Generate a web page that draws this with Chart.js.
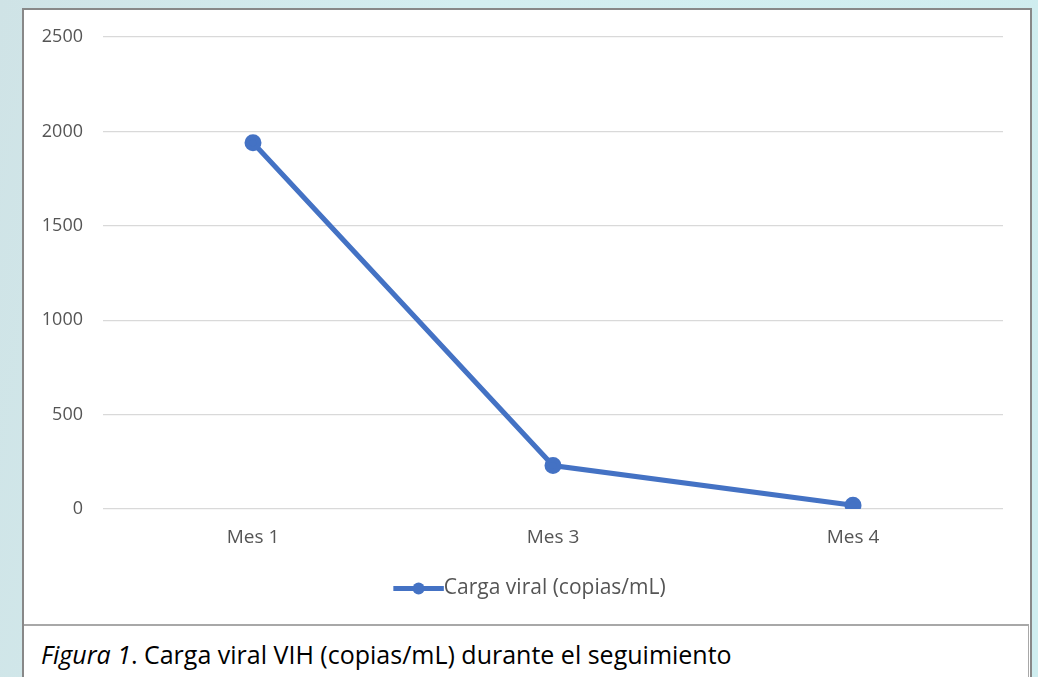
<!DOCTYPE html>
<html>
<head>
<meta charset="utf-8">
<script src="https://cdn.jsdelivr.net/npm/chart.js@4"></script>
<style>
  body { margin:0; width:1038px; height:677px; overflow:hidden;
         background: linear-gradient(100deg, #cfe3e6 0%, #d3eef0 40%, #cfedef 100%); }
  #frame { position:absolute; left:22px; top:8px; width:1006px; height:720px;
           border:2px solid #888; background:#fff; }
  #box { position:absolute; left:0; top:0; width:1006px; height:614px; }
  #caption { position:absolute; left:0; top:614px; width:1004px; height:100px;
             border-top:2px solid #a8a8a8; border-right:1px solid #a8a8a8;
             font-family:"Open Sans", sans-serif; font-size:25px; color:#000; }
  #caption span.t { position:absolute; left:17px; top:11px; white-space:nowrap; }
</style>
</head>
<body>
<div id="frame">
  <div id="box"><canvas id="c"></canvas></div>
  <div id="caption"><span class="t"><i>Figura 1</i>. Carga viral VIH (copias/mL) durante el seguimiento</span></div>
</div>
<script>
var meses = ["Mes 1", "Mes 3", "Mes 4"];
var cargaViral = [1940, 230, 20];
var serieNombre = "Carga viral (copias/mL)";
var azul = "#4472C4";
var grisTexto = "#555555";

var legendFont = 21;
var legendBox = 40;
var legendShift = 16;

// legend sample: line running up to the text, with a dot in the middle
var legendDot = {
  id: "legendDot",
  afterLayout: function(chart){
    // center the legend on the whole box, not on box minus right padding
    var lg = chart.legend;
    lg.left += legendShift;
    lg.right += legendShift;
    lg.legendHitBoxes.forEach(function(b){ b.left += legendShift; });
  },
  afterDraw: function(chart){
    var boxes = chart.legend.legendHitBoxes;
    var ctx = chart.ctx;
    for (var i = 0; i < boxes.length; i++){
      var b = boxes[i];
      var len = legendBox + legendFont/2;
      var y = b.top + b.height/2;
      ctx.save();
      ctx.strokeStyle = azul;
      ctx.lineWidth = 5;
      ctx.beginPath();
      ctx.moveTo(b.left, y);
      ctx.lineTo(b.left + len, y);
      ctx.stroke();
      ctx.fillStyle = azul;
      ctx.beginPath();
      ctx.arc(b.left + len/2, y, 6, 0, Math.PI*2);
      ctx.fill();
      ctx.restore();
    }
  }
};

new Chart(document.getElementById("c"), {
  type: "line",
  data: {
    labels: meses,
    datasets: [{
      label: serieNombre,
      data: cargaViral,
      borderColor: azul,
      backgroundColor: azul,
      borderWidth: 5,
      pointRadius: 6,
      pointHoverRadius: 6,
      pointBackgroundColor: azul,
      tension: 0
    }]
  },
  options: {
    responsive: true,
    maintainAspectRatio: false,
    animation: false,
    layout: { padding: { left: 0, right: 27, top: 27, bottom: 15 } },
    plugins: {
      tooltip: { enabled: false },
      legend: {
        position: "bottom",
        labels: {
          boxWidth: legendBox, boxHeight: 5,
          color: grisTexto,
          padding: 18,
          font: { family: "Open Sans", size: legendFont },
          generateLabels: function(chart){
            var items = Chart.defaults.plugins.legend.labels.generateLabels(chart);
            items.forEach(function(it){ it.lineWidth = 0; it.fillStyle = "rgba(0,0,0,0)"; });
            return items;
          }
        }
      }
    },
    scales: {
      x: {
        offset: true,
        grid: { display: false, drawTicks: false },
        border: { display: false },
        ticks: { color: grisTexto, padding: 17, font: { family: "Open Sans", size: 19 } },
        afterFit: function(s){ s.height = 51; }
      },
      y: {
        min: 0, max: 2500,
        ticks: { stepSize: 500, color: grisTexto, padding: 20,
                 font: { family: "Open Sans", size: 18 },
                 callback: function(v){ return String(v); } },
        grid: { color: "#d9d9d9", lineWidth: 1.3, drawTicks: false },
        border: { display: false },
        afterFit: function(s){ s.width = 79; s.paddingTop = 0; s.paddingBottom = 0; }
      }
    }
  },
  plugins: [legendDot]
});
</script>
</body>
</html>
